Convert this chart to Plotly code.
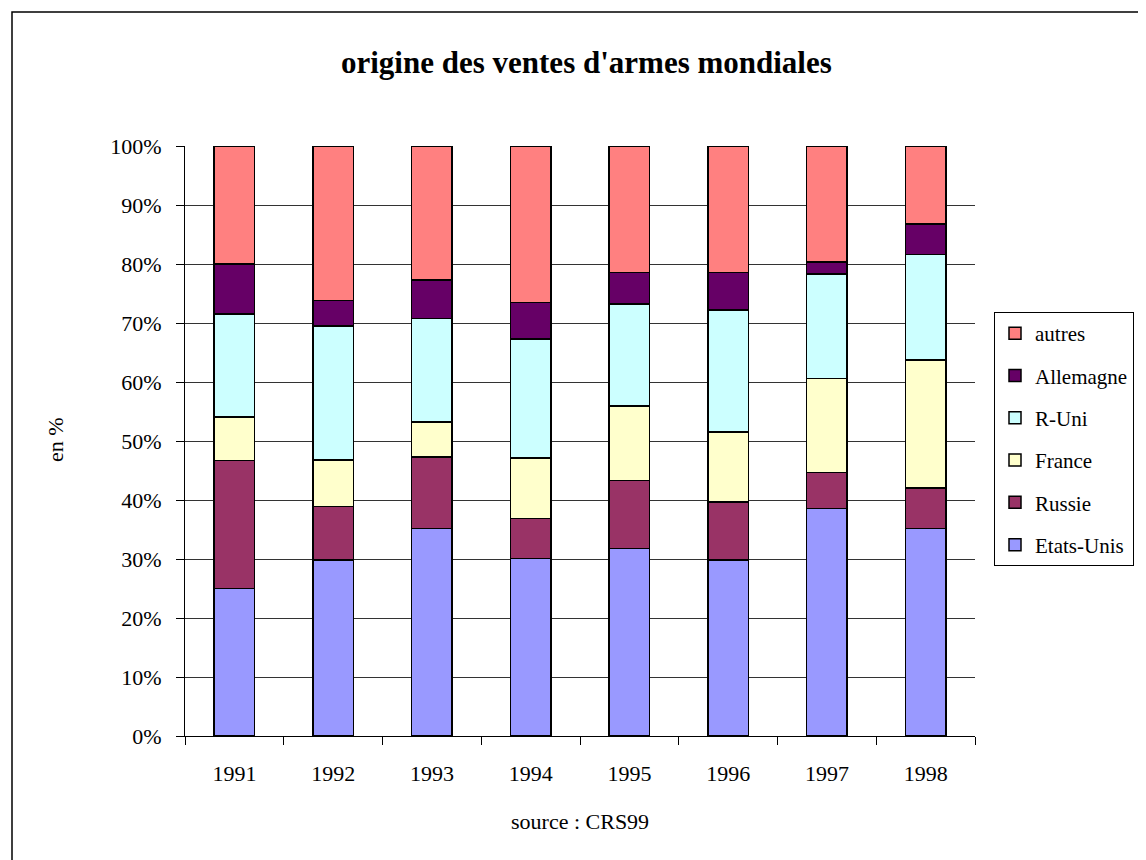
import plotly.graph_objects as go

years = ["1991", "1992", "1993", "1994", "1995", "1996", "1997", "1998"]
etats_unis = [25.0, 29.8, 35.2, 30.1, 31.8, 29.8, 38.6, 35.2]
russie = [21.7, 9.1, 12.1, 6.8, 11.5, 9.9, 6.1, 6.8]
france = [7.4, 7.9, 5.9, 10.2, 12.6, 11.8, 15.9, 21.7]
r_uni = [17.4, 22.7, 17.6, 20.2, 17.3, 20.7, 17.7, 17.9]
allemagne = [8.5, 4.3, 6.5, 6.2, 5.4, 6.4, 2.0, 5.2]
autres = [20.0, 26.2, 22.7, 26.5, 21.4, 21.4, 19.7, 13.2]

series = [
    ("Etats-Unis", etats_unis, "#9999FF"),
    ("Russie", russie, "#993366"),
    ("France", france, "#FFFFCC"),
    ("R-Uni", r_uni, "#CCFFFF"),
    ("Allemagne", allemagne, "#660066"),
    ("autres", autres, "#FF8080"),
]

FONT = "Liberation Serif"

fig = go.Figure()
n = len(series)
for i, (name, vals, col) in enumerate(series):
    fig.add_trace(go.Bar(
        x=years, y=vals, name=name, legendgroup=name, legendrank=n - i,
        marker=dict(color=col, line=dict(color="#000000", width=1.5)),
    ))

OFF = 8  # page body margin
W, H = 1146 - OFF, 860 - OFF
# target screen coordinates of plot area
L, R, T, B = 185, 975, 146, 736
pw, ph = R - L, B - T

def px(x):
    return (x - L) / pw

def py(y):
    return (B - y) / ph

fig.update_layout(
    width=W, height=H,
    margin=dict(l=L - OFF, r=W - (R - OFF), t=T - OFF, b=H - (B - OFF), pad=0,
                autoexpand=False),
    barmode="stack",
    bargap=0.59,
    plot_bgcolor="white",
    paper_bgcolor="white",
    font=dict(family=FONT, size=22, color="black"),
    showlegend=True,
    legend=dict(
        x=px(994), y=py(312), xanchor="left", yanchor="top",
        bordercolor="black", borderwidth=1,
        font=dict(family=FONT, size=21, color="black"),
        traceorder="grouped", tracegroupgap=12,
        itemwidth=30,
    ),
    xaxis=dict(
        type="category",
        showline=True, linecolor="black", linewidth=1,
        ticks="outside", ticklen=8, tickcolor="black", tickson="boundaries",
        showgrid=False, automargin=False,
        ticklabelstandoff=18,
        tickfont=dict(family=FONT, size=22),
    ),
    yaxis=dict(
        range=[0, 100], tick0=0, dtick=10, ticksuffix="%",
        showline=True, linecolor="black", linewidth=1,
        ticks="outside", ticklen=8, tickcolor="black",
        showgrid=True, gridcolor="#333333", gridwidth=1,
        zeroline=False, automargin=False,
        ticklabelstandoff=10,
        tickfont=dict(family=FONT, size=22),
    ),
    annotations=[
        dict(text="<b>origine des ventes d'armes mondiales</b>", xref="paper", yref="paper",
             x=px(586), y=py(62), xanchor="center", yanchor="middle", showarrow=False,
             font=dict(family=FONT, size=31)),
        dict(text="en %", xref="paper", yref="paper", x=px(55), y=py(440),
             xanchor="center", yanchor="middle", showarrow=False, textangle=-90,
             font=dict(family=FONT, size=22)),
        dict(text="source : CRS99", xref="paper", yref="paper", x=px(580), y=py(821),
             xanchor="center", yanchor="middle", showarrow=False,
             font=dict(family=FONT, size=22)),
    ],
    shapes=[
        dict(type="rect", xref="paper", yref="paper",
             x0=px(12), y0=py(900), x1=px(1200), y1=py(12),
             line=dict(color="black", width=1.5), fillcolor="rgba(0,0,0,0)", layer="below"),
    ],
)

fig.write_html("out.html")
